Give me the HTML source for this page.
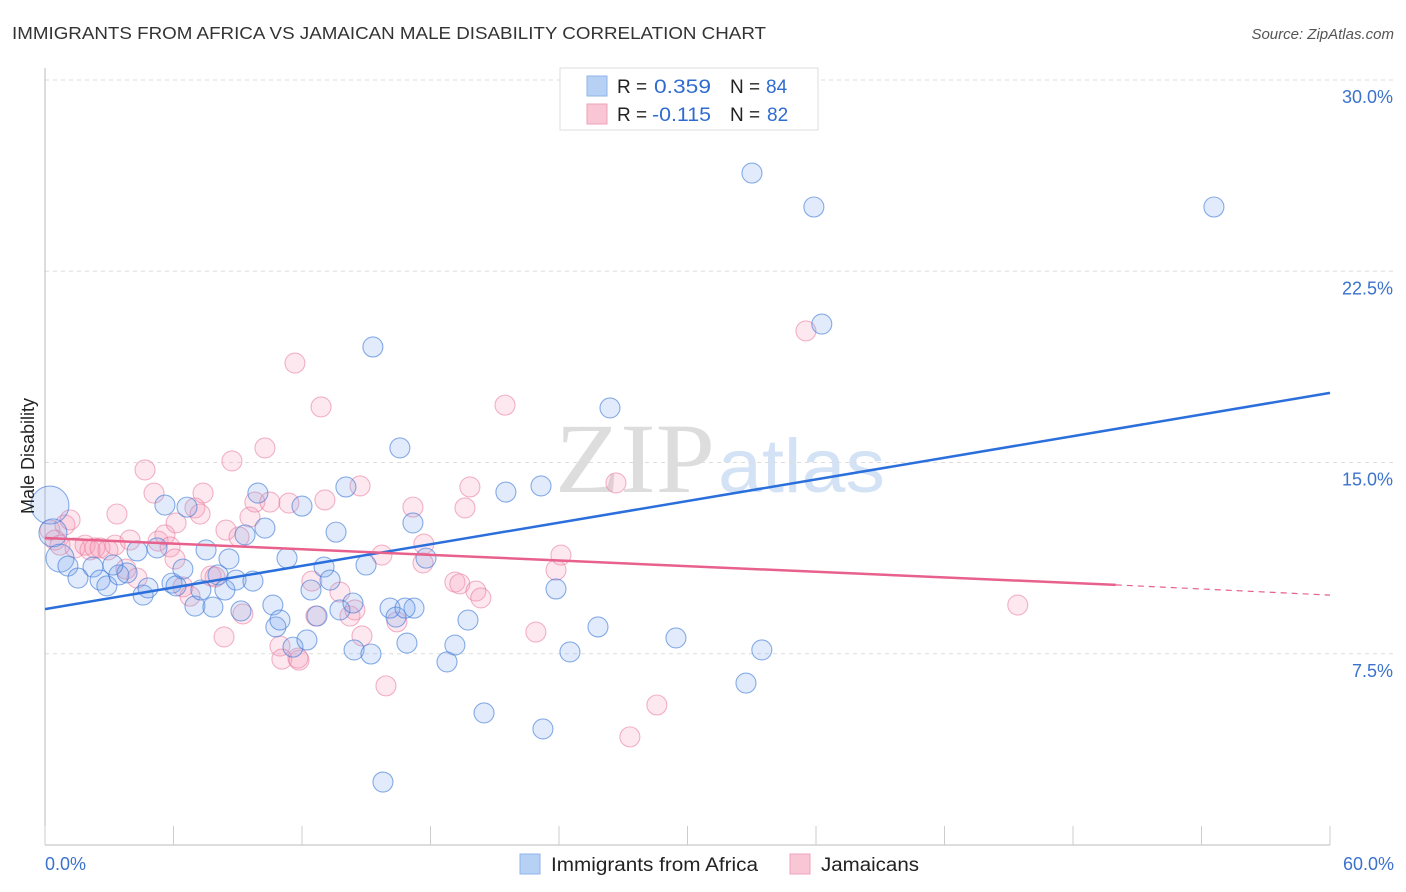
<!DOCTYPE html>
<html><head><meta charset="utf-8"><style>
body{margin:0;background:#fff;font-family:"Liberation Sans",sans-serif;}
svg{display:block}
</style></head><body>
<svg id="c" width="1406" height="892">
<text x="12" y="39" font-size="17.5" fill="#333" textLength="754" lengthAdjust="spacingAndGlyphs">IMMIGRANTS FROM AFRICA VS JAMAICAN MALE DISABILITY CORRELATION CHART</text>
<text x="1394" y="39" font-size="15" fill="#555" font-style="italic" text-anchor="end">Source: ZipAtlas.com</text>
<text x="555" y="492" font-size="100" fill="#ddd" textLength="160" lengthAdjust="spacingAndGlyphs" font-family="Liberation Serif">ZIP</text>
<text x="718" y="492" font-size="76" fill="#d3e2f5" textLength="167" lengthAdjust="spacingAndGlyphs">atlas</text>
<g id="grid"></g><g id="pts"></g><g id="lines"></g>
<text transform="translate(34,456) rotate(-90)" font-size="18" fill="#222" text-anchor="middle">Male Disability</text>
<text x="45" y="870" font-size="18" fill="#3b72cc">0.0%</text>
<text x="1394" y="870" font-size="18" fill="#3b72cc" text-anchor="end">60.0%</text>
<g>
<rect x="560" y="68" width="258" height="62" fill="#fff" stroke="#ddd"/>
<rect x="587" y="76" width="20" height="20" fill="#b7d1f5" stroke="#8fb4ea"/>
<rect x="587" y="104" width="20" height="20" fill="#f9c6d5" stroke="#f0a2ba"/>
<text x="617" y="93" font-size="19" fill="#222">R = <tspan fill="#2f6bd0" x="654" textLength="57" lengthAdjust="spacingAndGlyphs">0.359</tspan><tspan x="730">N = </tspan><tspan fill="#2f6bd0" x="766">84</tspan></text>
<text x="617" y="121" font-size="19" fill="#222">R = <tspan fill="#2f6bd0" x="652" textLength="59" lengthAdjust="spacingAndGlyphs">-0.115</tspan><tspan x="730">N = </tspan><tspan fill="#2f6bd0" x="767">82</tspan></text>
</g>
<g>
<rect x="520" y="854" width="20" height="20" fill="#b7d1f5" stroke="#8fb4ea"/>
<text x="551" y="871" font-size="19" fill="#222" textLength="207" lengthAdjust="spacingAndGlyphs">Immigrants from Africa</text></g>
<g>
<rect x="790" y="854" width="20" height="20" fill="#f9c6d5" stroke="#f0a2ba"/>
<text x="821" y="871" font-size="19" fill="#222" textLength="98" lengthAdjust="spacingAndGlyphs">Jamaicans</text></g>
</svg>
<script>
const yTicks=[7.5,15,22.5,30];
const yTickLabels=["7.5%","15.0%","22.5%","30.0%"];
const xTicks=[0,6,12,18,24,30,36,42,48,54,60];
const blueX=[.23,.37,.70,1.07,1.54,2.24,2.57,2.89,3.45,3.83,3.17,4.58,4.81,4.30,5.23,5.60,5.93,6.12,6.44,6.63,7.00,7.28,7.52,7.84,8.08,8.40,8.59,8.92,9.15,9.34,9.71,9.94,10.27,10.64,10.78,10.97,11.30,11.58,12.00,12.23,12.42,12.70,13.03,13.31,13.59,13.77,14.05,14.38,14.43,14.99,15.22,15.31,16.11,16.39,16.57,16.90,17.18,17.23,17.79,18.77,19.14,19.75,20.50,21.52,23.16,23.25,23.86,24.51,25.82,26.38,29.46,32.73,33.01,33.47,35.90,36.27,54.58,15.78,16.81];
const blueY=[13.33,12.24,11.25,10.94,10.47,10.90,10.39,10.16,10.59,10.67,10.98,9.80,10.08,11.53,11.65,13.33,10.27,10.16,10.82,13.25,9.37,10.00,11.57,9.33,10.59,10.00,11.22,10.39,9.18,12.16,10.35,13.80,12.43,9.41,8.55,8.82,11.25,7.76,13.29,8.04,10.00,8.98,10.90,10.39,12.27,9.22,14.04,9.49,7.65,10.98,7.49,19.53,9.29,8.94,15.57,7.92,12.63,9.29,11.25,7.18,7.84,8.82,5.18,13.84,14.08,4.55,10.04,7.57,8.55,17.14,8.12,6.35,26.35,7.65,25.02,20.43,25.02,2.47,9.29];
const blueSize=[1.9,1.4,1.4];
const pinkX=[.23,.47,.70,.93,1.17,1.40,1.87,2.10,2.33,2.57,2.94,3.27,3.36,3.78,3.97,4.30,4.67,5.09,5.28,5.60,5.84,6.07,6.12,6.44,6.77,7.00,7.24,7.38,7.75,7.94,8.36,8.45,8.73,9.06,9.24,9.57,9.80,10.27,10.50,10.97,11.06,11.39,11.67,11.86,12.46,12.65,12.89,13.07,13.77,14.24,14.47,14.71,14.80,15.73,15.92,16.43,17.18,17.65,17.69,19.14,19.37,19.61,19.84,20.12,20.35,21.48,22.92,23.86,24.09,26.66,27.31,28.57,35.53,45.42,11.81];
const pinkY=[12.35,11.96,11.76,12.55,12.75,11.65,11.76,11.57,11.65,11.65,11.57,11.76,12.98,10.82,11.96,10.47,14.71,13.80,11.92,12.16,11.69,11.22,12.63,10.12,9.76,13.22,12.98,13.80,10.55,10.51,8.16,12.35,15.06,12.08,9.06,12.86,13.45,15.57,13.45,7.80,7.29,13.41,18.90,7.25,10.35,8.98,17.18,13.53,9.92,8.98,9.22,14.08,8.20,11.37,6.24,8.75,13.25,11.06,11.80,10.31,10.24,13.22,14.04,9.96,9.69,17.25,8.35,10.78,11.37,14.20,4.24,5.49,20.16,9.41,7.33];
const blueTrend=[9.25,17.73];
const pinkTrend=[12.04,10.2,9.8];
const pinkTrendEnd=50;
const X=v=>45+v*(1285/60), Y=v=>845-v*25.5;
const NS="http://www.w3.org/2000/svg";
function mk(t,a,p){const e=document.createElementNS(NS,t);for(const k in a)e.setAttribute(k,a[k]);p.appendChild(e);return e;}
const g=document.getElementById('grid');
yTicks.forEach((v,i)=>{
 const l=mk('line',{x1:45,x2:1394,y1:Y(v),y2:Y(v),stroke:'#ddd','stroke-dasharray':'4,4'},g);
 
 
 const t=mk('text',{x:1393,y:Y(v)+23,'font-size':18,fill:'#3b72cc','text-anchor':'end'},g);
 t.textContent=yTickLabels[i];
 
 
});
const ax=mk('line',{x1:45,x2:45,y1:68,y2:845,stroke:'#bbb'},g);


const bx=mk('line',{x1:45,x2:1330,y1:845,y2:845,stroke:'#bbb'},g);


xTicks.forEach(v=>{
 const t=mk('line',{x1:X(v),x2:X(v),y1:826,y2:845,stroke:'#ccc'},g);
 
 
});
const p=document.getElementById('pts');
pinkX.forEach((v,i)=>{
 const c=mk('circle',{cx:X(v),cy:Y(pinkY[i]),r:10,fill:'rgba(244,150,180,0.22)',stroke:'rgba(232,120,155,0.55)','stroke-width':1.1},p);
 
 
});
blueX.forEach((v,i)=>{
 const c=mk('circle',{cx:X(v),cy:Y(blueY[i]),r:10*(blueSize[i]||1),fill:'rgba(120,165,235,0.22)',stroke:'rgba(60,120,215,0.6)','stroke-width':1.1},p);
 
 
});
const L=document.getElementById('lines');
const bl=mk('line',{x1:X(0),y1:Y(blueTrend[0]),x2:X(60),y2:Y(blueTrend[1]),stroke:'#2a6fdb','stroke-width':2.5},L);


const pl=mk('line',{x1:X(0),y1:Y(pinkTrend[0]),x2:X(pinkTrendEnd),y2:Y(pinkTrend[1]),stroke:'#e8608c','stroke-width':2.5},L);


const pd=mk('line',{x1:X(pinkTrendEnd),y1:Y(pinkTrend[1]),x2:X(60),y2:Y(pinkTrend[2]),stroke:'#e8608c','stroke-width':1.2,'stroke-dasharray':'6,5'},L);


</script>
</body></html>
